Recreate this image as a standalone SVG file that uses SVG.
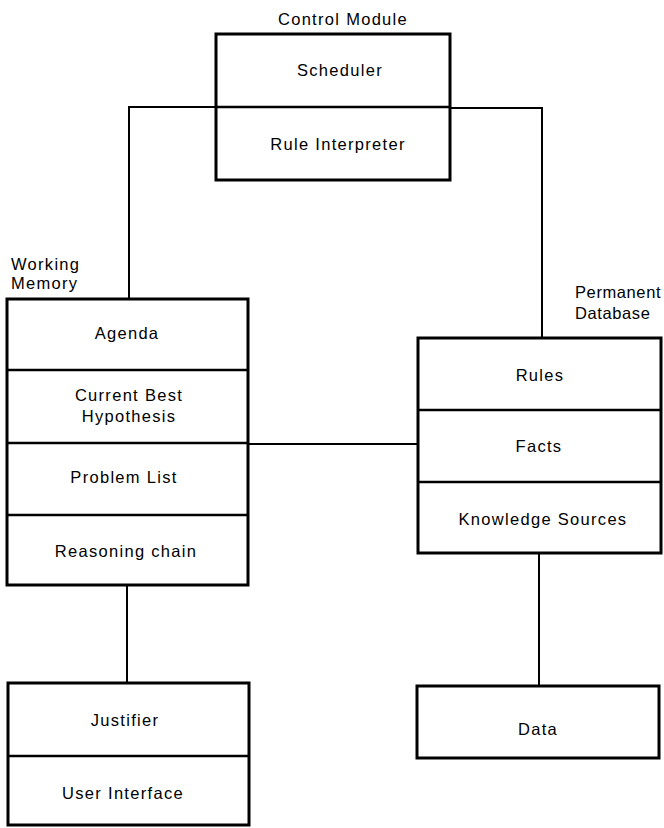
<svg xmlns="http://www.w3.org/2000/svg" width="664" height="828" viewBox="0 0 664 828">
<style>
.box{fill:none;stroke:#000;stroke-width:3}
.div{fill:none;stroke:#000;stroke-width:2.5}
.con{fill:none;stroke:#000;stroke-width:2}
text{font-family:"Liberation Sans",Arial,sans-serif;font-size:16.5px;letter-spacing:1.3px;fill:#000}
.c{text-anchor:middle}
.tight{letter-spacing:0.6px}
</style>
<rect width="664" height="828" fill="#fff"/>
<g id="connectors">
<polyline class="con" points="129,299 129,107 216,107"/>
<polyline class="con" points="450,108 542,108 542,338"/>
<line class="con" x1="248" y1="444" x2="418" y2="444"/>
<line class="con" x1="127" y1="585" x2="127" y2="683"/>
<line class="con" x1="539" y1="553" x2="539" y2="686"/>
</g>
<g id="control-module">
<text x="343" y="25" class="c">Control Module</text>
<rect class="box" x="216" y="34" width="234" height="146"/>
<line class="div" x1="216" y1="107" x2="450" y2="107"/>
<text x="340" y="76" class="c">Scheduler</text>
<text x="338" y="150" class="c">Rule Interpreter</text>
</g>
<g id="working-memory">
<text x="11" y="270">Working</text>
<text x="11" y="289">Memory</text>
<rect class="box" x="7" y="299" width="241" height="286"/>
<line class="div" x1="7" y1="370" x2="248" y2="370"/>
<line class="div" x1="7" y1="443" x2="248" y2="443"/>
<line class="div" x1="7" y1="515" x2="248" y2="515"/>
<text x="127" y="339" class="c">Agenda</text>
<text x="129" y="401" class="c">Current Best</text>
<text x="129" y="422" class="c">Hypothesis</text>
<text x="124" y="483" class="c">Problem List</text>
<text x="126" y="557" class="c">Reasoning chain</text>
</g>
<g id="permanent-database">
<text x="575" y="298" class="tight">Permanent</text>
<text x="575" y="319" class="tight">Database</text>
<rect class="box" x="418" y="338" width="243" height="215"/>
<line class="div" x1="418" y1="410" x2="661" y2="410"/>
<line class="div" x1="418" y1="482" x2="661" y2="482"/>
<text x="540" y="381" class="c">Rules</text>
<text x="539" y="452" class="c">Facts</text>
<text x="543" y="525" class="c">Knowledge Sources</text>
</g>
<g id="justifier-ui">
<rect class="box" x="8" y="683" width="241" height="142"/>
<line class="div" x1="8" y1="756" x2="249" y2="756"/>
<text x="125" y="726" class="c">Justifier</text>
<text x="123" y="799" class="c">User Interface</text>
</g>
<g id="data">
<rect class="box" x="417" y="686" width="242" height="72"/>
<text x="538" y="735" class="c">Data</text>
</g>
</svg>
